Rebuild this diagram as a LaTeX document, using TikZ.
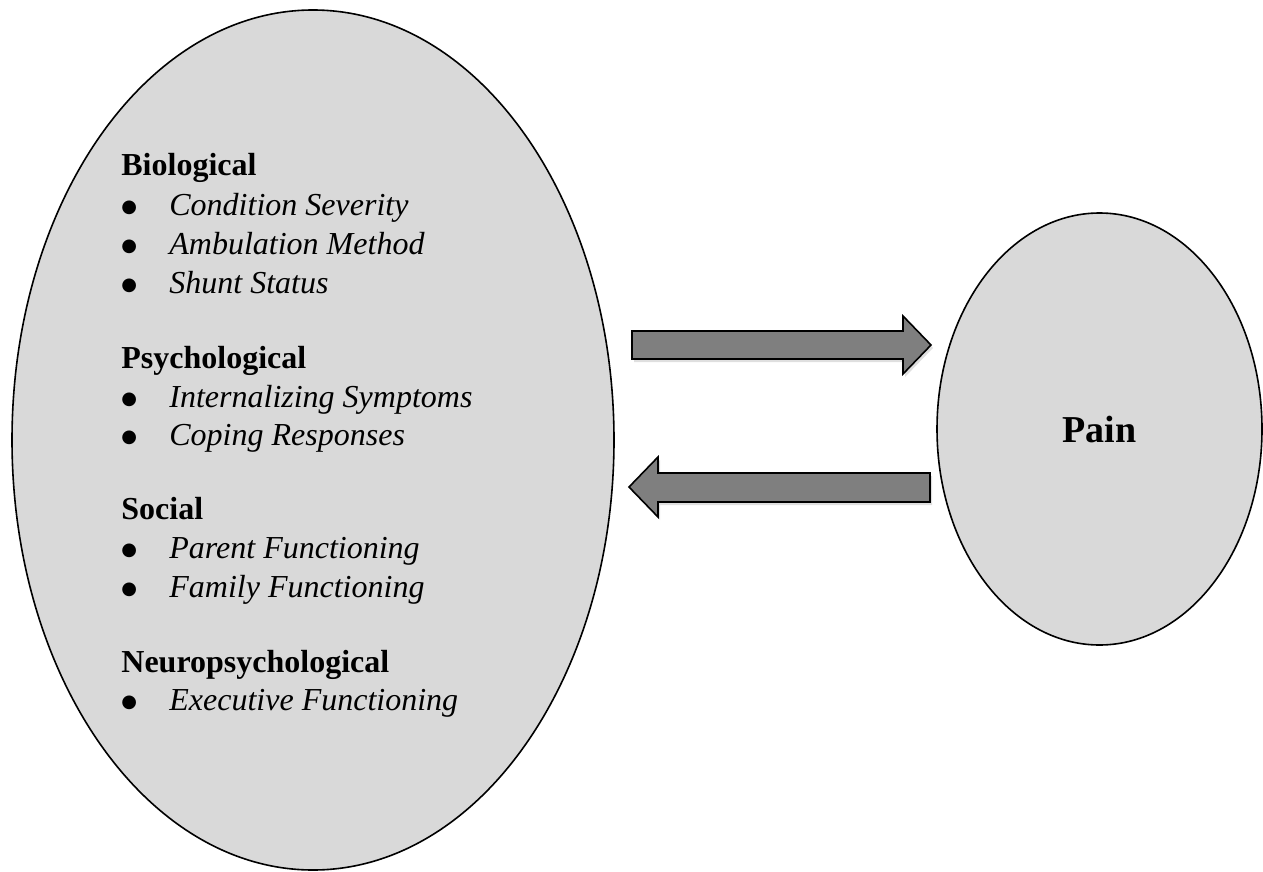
\documentclass[tikz,border=0pt]{standalone}
\usepackage{fontspec}
\setmainfont{Liberation Serif}
\newfontfamily\symfont{DejaVu Sans}
\usetikzlibrary{shapes.geometric,shadows}
\definecolor{ellgray}{HTML}{D9D9D9}
\definecolor{arrgray}{HTML}{7F7F7F}
\begin{document}
\begin{tikzpicture}[x=0.5pt,y=-0.5pt,
  oval/.style={ellipse, draw=black, line width=0.8pt, fill=ellgray, inner sep=0pt},
  head/.style={anchor=base west, inner sep=0pt, font=\fontsize{16}{19}\selectfont\bfseries},
  item/.style={anchor=base west, inner sep=0pt, font=\fontsize{16}{19}\selectfont},
  blockarrow/.style={draw=black, line width=0.8pt, fill=arrgray, line join=miter,
    drop shadow={opacity=0.25, shadow xshift=1pt, shadow yshift=-1.5pt}}]
\useasboundingbox (0,0) rectangle (1263,872);
\node[oval, minimum width=301pt, minimum height=430pt] (factors) at (313,440) {};
\node[oval, minimum width=162.5pt, minimum height=216pt] (pain) at (1099.5,429)
  {\fontsize{19}{22}\selectfont\bfseries Pain};
\newcommand{\bul}[1]{\makebox[24pt][l]{\raisebox{1.3pt}{\fontsize{9}{9}\symfont ●}}\textit{#1}}
\node[head] (bio) at (121,176) {Biological};
\node[item] (bio1) at (121,215) {\bul{Condition Severity}};
\node[item] (bio2) at (121,254) {\bul{Ambulation Method}};
\node[item] (bio3) at (121,293) {\bul{Shunt Status}};
\node[head] (psy) at (121,368) {Psychological};
\node[item] (psy1) at (121,407) {\bul{Internalizing Symptoms}};
\node[item] (psy2) at (121,445) {\bul{Coping Responses}};
\node[head] (soc) at (121,519) {Social};
\node[item] (soc1) at (121,558) {\bul{Parent Functioning}};
\node[item] (soc2) at (121,597) {\bul{Family Functioning}};
\node[head] (neu) at (121,672) {Neuropsychological};
\node[item] (neu1) at (121,710) {\bul{Executive Functioning}};
\draw[blockarrow] (632,331) -- (903,331) -- (903,316) -- (931,345) -- (903,374) -- (903,359) -- (632,359) -- cycle;
\draw[blockarrow] (930,473) -- (658,473) -- (658,457) -- (629,487) -- (658,517) -- (658,502) -- (930,502) -- cycle;
\end{tikzpicture}
\end{document}
